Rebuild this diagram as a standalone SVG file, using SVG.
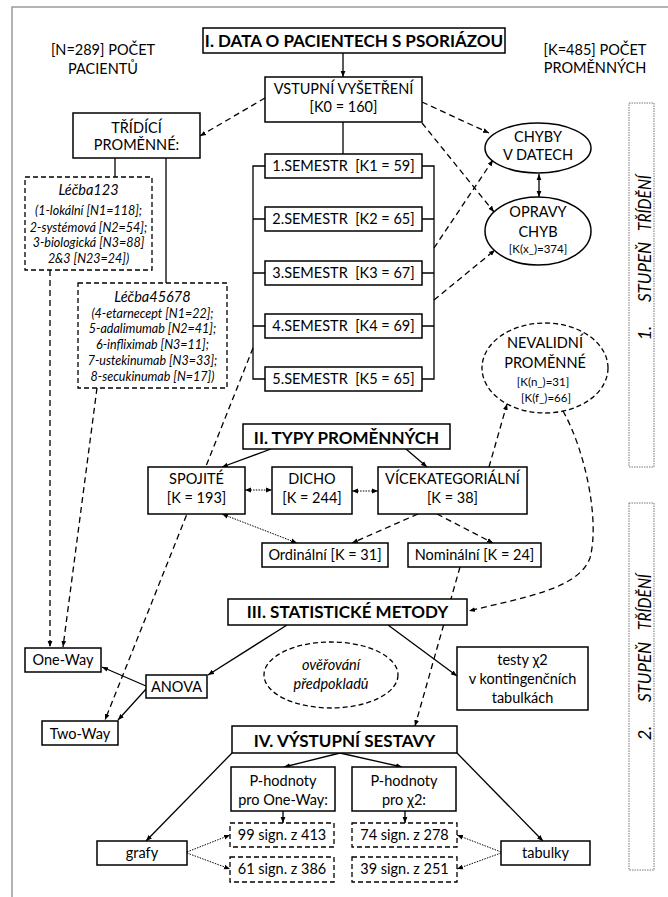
<svg xmlns="http://www.w3.org/2000/svg" width="668" height="897" viewBox="0 0 668 897">
<style>
.t{font-family:Lato,"Open Sans","Liberation Sans",sans-serif;font-size:14.5px;fill:#000;text-anchor:middle}
.b{font-weight:bold;font-size:17px}
.i{font-style:italic}
.s{font-size:11.5px}
.si{font-size:12.5px}
.r{font-size:18px;font-style:italic}
.box{fill:#fff;stroke:#000;stroke-width:1.5}
.dbox{fill:#fff;stroke:#000;stroke-width:1.3;stroke-dasharray:5,3}
.vbox{fill:none;stroke:#777;stroke-width:1;stroke-dasharray:1.5,1}
.ln{fill:none;stroke:#000;stroke-width:1.3}
.dl{fill:none;stroke:#000;stroke-width:1.3;stroke-dasharray:6,4}
.dt{fill:none;stroke:#000;stroke-width:1;stroke-dasharray:1.5,1.2}
.fr{fill:none;stroke:#9a9a9a;stroke-width:1.5}
</style>
<defs>
<marker id="a" viewBox="0 0 10 10" refX="10" refY="5" markerWidth="6" markerHeight="6" markerUnits="userSpaceOnUse" orient="auto-start-reverse"><path d="M0,1 L10,5 L0,9 z" fill="#000"/></marker>
</defs>
<path class="fr" d="M12,897 V7 H668"/>
<g id="connectors">
<path class="ln" d="M343,53 V77" marker-end="url(#a)"/>
<path class="ln" d="M343,122 V154"/>
<path class="ln" d="M265,166 H253 V379 H265 M253,219 H265 M253,273 H265 M253,326 H265"/>
<path class="ln" d="M422,166 H434 V379 H422 M434,219 H422 M434,273 H422 M434,326 H422"/>
<path class="ln" d="M115,158 V177"/>
<path class="ln" d="M166,158 V283"/>
<path class="dl" d="M265,98 L200,136" marker-end="url(#a)"/>
<path class="dl" d="M422,102 L489,133" marker-end="url(#a)"/>
<path class="dl" d="M422,123 L494,212" marker-end="url(#a)"/>
<path class="dl" d="M434,248 L493,160" marker-end="url(#a)"/>
<path class="dl" d="M434,300 L495,250" marker-end="url(#a)"/>
<path class="ln" d="M539,174 V197" marker-start="url(#a)" marker-end="url(#a)"/>
<path class="dl" d="M50,270 V647" marker-end="url(#a)"/>
<path class="dl" d="M97,388 L63,647" marker-end="url(#a)"/>
<path class="dl" d="M253,348 L105,720" marker-end="url(#a)"/>
<path class="ln" d="M271,449 L222,467" marker-end="url(#a)"/>
<path class="ln" d="M406,449 L427,467" marker-end="url(#a)"/>
<path class="dt" d="M245,490 H272" marker-start="url(#a)" marker-end="url(#a)"/>
<path class="dt" d="M352,491 H378" marker-start="url(#a)" marker-end="url(#a)"/>
<path class="dt" d="M222,514 L297,543" marker-start="url(#a)" marker-end="url(#a)"/>
<path class="dl" d="M418,514 L352,543" marker-end="url(#a)"/>
<path class="dl" d="M437,514 L493,543" marker-end="url(#a)"/>
<path class="dl" d="M489,467 L507,404" marker-end="url(#a)"/>
<path class="dl" d="M563,411 C585,450 600,520 590,558 C578,590 520,598 469,611" marker-end="url(#a)"/>
<path class="dl" d="M460,567 L415,726" marker-end="url(#a)"/>
<path class="ln" d="M146,686 L102,667" marker-end="url(#a)"/>
<path class="ln" d="M147,688 L118,720" marker-end="url(#a)"/>
<path class="ln" d="M287,625 L208,675" marker-end="url(#a)"/>
<path class="ln" d="M388,625 L457,676" marker-end="url(#a)"/>
<path class="ln" d="M340,753 L284,767" marker-end="url(#a)"/>
<path class="ln" d="M340,753 L402,767" marker-end="url(#a)"/>
<path class="ln" d="M232,753 L146,841" marker-end="url(#a)"/>
<path class="ln" d="M457,753 L543,841" marker-end="url(#a)"/>
<path class="ln" d="M283,811 V823" marker-end="url(#a)"/>
<path class="ln" d="M405,811 V823" marker-end="url(#a)"/>
<path class="dt" d="M187,852 L230,835" marker-end="url(#a)"/>
<path class="dt" d="M187,853 L230,869" marker-end="url(#a)"/>
<path class="dt" d="M501,852 L457,835" marker-end="url(#a)"/>
<path class="dt" d="M501,853 L457,869" marker-end="url(#a)"/>
</g>
<g id="pocet-pacientu"><text class="t" x="103" y="55">[N=289] POČET</text><text class="t" x="103" y="74">PACIENTŮ</text></g>
<g id="pocet-promennych"><text class="t" x="595" y="55">[K=485] POČET</text><text class="t" x="595" y="73">PROMĚNNÝCH</text></g>
<g id="data"><rect class="box" x="203" y="28" width="302" height="25"/><text class="t b" x="354" y="47">I. DATA O PACIENTECH S PSORIÁZOU</text></g>
<g id="vstupni"><rect class="box" x="265" y="77" width="157" height="45"/><text class="t" x="343.5" y="94">VSTUPNÍ VYŠETŘENÍ</text><text class="t" x="343.5" y="112">[K0 = 160]</text></g>
<g id="tridici"><rect class="box" x="73" y="113" width="127" height="45"/><text class="t" x="136.5" y="133">TŘÍDÍCÍ</text><text class="t" x="136.5" y="150">PROMĚNNÉ:</text></g>
<g id="lecba123"><rect class="dbox" x="25" y="177" width="127" height="93"/>
<text class="t i" x="88.5" y="195" font-size="16">Léčba123</text>
<text class="t i si" x="88.5" y="215">(1-lokální [N1=118];</text>
<text class="t i si" x="88.5" y="232">2-systémová [N2=54];</text>
<text class="t i si" x="88.5" y="247">3-biologická [N3=88]</text>
<text class="t i si" x="88.5" y="263">2&amp;3 [N23=24])</text></g>
<g id="lecba45678"><rect class="dbox" x="78" y="283" width="149" height="105"/>
<text class="t i" x="152.5" y="302" font-size="16">Léčba45678</text>
<text class="t i si" x="152.5" y="318">(4-etarnecept [N1=22];</text>
<text class="t i si" x="152.5" y="333">5-adalimumab [N2=41];</text>
<text class="t i si" x="152.5" y="349">6-infliximab [N3=11];</text>
<text class="t i si" x="152.5" y="365">7-ustekinumab [N3=33];</text>
<text class="t i si" x="152.5" y="381">8-secukinumab [N=17])</text></g>
<g id="sem1"><rect class="box" x="265" y="154" width="157" height="24"/><text class="t" x="343.5" y="171" xml:space="preserve">1.SEMESTR  [K1 = 59]</text></g>
<g id="sem2"><rect class="box" x="265" y="207" width="157" height="24"/><text class="t" x="343.5" y="224" xml:space="preserve">2.SEMESTR  [K2 = 65]</text></g>
<g id="sem3"><rect class="box" x="265" y="261" width="157" height="24"/><text class="t" x="343.5" y="278" xml:space="preserve">3.SEMESTR  [K3 = 67]</text></g>
<g id="sem4"><rect class="box" x="265" y="314" width="157" height="24"/><text class="t" x="343.5" y="331" xml:space="preserve">4.SEMESTR  [K4 = 69]</text></g>
<g id="sem5"><rect class="box" x="265" y="367" width="157" height="24"/><text class="t" x="343.5" y="384" xml:space="preserve">5.SEMESTR  [K5 = 65]</text></g>
<g id="chyby"><ellipse class="box" cx="538" cy="148" rx="53" ry="25"/><text class="t" x="538" y="142">CHYBY</text><text class="t" x="538" y="160">V DATECH</text></g>
<g id="opravy"><ellipse class="box" cx="538" cy="231" rx="53" ry="34"/><text class="t" x="538" y="217">OPRAVY</text><text class="t" x="538" y="237">CHYB</text><text class="t s" x="538" y="253">[K(x_)=374]</text></g>
<g id="nevalidni"><ellipse class="dbox" cx="545" cy="368" rx="63" ry="45"/><text class="t" x="545" y="348">NEVALIDNÍ</text><text class="t" x="545" y="368">PROMĚNNÉ</text><text class="t s" x="543" y="386">[K(n_)=31]</text><text class="t s" x="546" y="402">[K(f_)=66]</text></g>
<g id="typy"><rect class="box" x="243" y="424" width="207" height="25"/><text class="t b" x="346.5" y="444">II. TYPY PROMĚNNÝCH</text></g>
<g id="spojite"><rect class="box" x="148" y="467" width="97" height="47"/><text class="t" x="196.5" y="484">SPOJITÉ</text><text class="t" x="196.5" y="503">[K = 193]</text></g>
<g id="dicho"><rect class="box" x="272" y="467" width="80" height="47"/><text class="t" x="312" y="484">DICHO</text><text class="t" x="312" y="503">[K = 244]</text></g>
<g id="vicekat"><rect class="box" x="378" y="467" width="149" height="47"/><text class="t" x="452.5" y="484">VÍCEKATEGORIÁLNÍ</text><text class="t" x="452.5" y="503">[K = 38]</text></g>
<g id="ordinalni"><rect class="box" x="262" y="543" width="126" height="24"/><text class="t" x="325" y="560">Ordinální [K = 31]</text></g>
<g id="nominalni"><rect class="box" x="408" y="543" width="133" height="24"/><text class="t" x="474.5" y="560">Nominální [K = 24]</text></g>
<g id="metody"><rect class="box" x="228" y="599" width="239" height="26"/><text class="t b" x="347.5" y="618">III. STATISTICKÉ METODY</text></g>
<g id="oneway"><rect class="box" x="25" y="648" width="76" height="24"/><text class="t" x="63" y="665">One-Way</text></g>
<g id="anova"><rect class="box" x="146" y="675" width="61" height="23"/><text class="t" x="176.5" y="692">ANOVA</text></g>
<g id="twoway"><rect class="box" x="42" y="721" width="76" height="24"/><text class="t" x="80" y="739">Two-Way</text></g>
<g id="overovani"><ellipse class="dbox" cx="331" cy="675" rx="67" ry="33"/><text class="t i" x="331" y="670" font-size="17">ověřování</text><text class="t i" x="331" y="689" font-size="17">předpokladů</text></g>
<g id="testy"><rect class="box" x="457" y="647" width="131" height="63"/><text class="t" x="522.5" y="665">testy χ2</text><text class="t" x="522.5" y="684">v kontingenčních</text><text class="t" x="522.5" y="703">tabulkách</text></g>
<g id="vystupni"><rect class="box" x="232" y="726" width="225" height="27"/><text class="t b" x="344.5" y="747">IV. VÝSTUPNÍ SESTAVY</text></g>
<g id="p-oneway"><rect class="box" x="231" y="767" width="104" height="44"/><text class="t" x="283" y="786">P-hodnoty</text><text class="t" x="283" y="805">pro One-Way:</text></g>
<g id="p-chi"><rect class="box" x="352" y="767" width="104" height="44"/><text class="t" x="404" y="786">P-hodnoty</text><text class="t" x="404" y="805">pro χ2:</text></g>
<g id="s99"><rect class="dbox" x="230" y="823" width="104" height="24"/><text class="t" x="282" y="840">99 sign. z 413</text></g>
<g id="s61"><rect class="dbox" x="230" y="857" width="104" height="25"/><text class="t" x="282" y="874">61 sign. z 386</text></g>
<g id="s74"><rect class="dbox" x="352" y="823" width="105" height="24"/><text class="t" x="404.5" y="840">74 sign. z 278</text></g>
<g id="s39"><rect class="dbox" x="352" y="857" width="105" height="25"/><text class="t" x="404.5" y="874">39 sign. z 251</text></g>
<g id="grafy"><rect class="box" x="97" y="841" width="90" height="24"/><text class="t" x="142" y="858">grafy</text></g>
<g id="tabulky"><rect class="box" x="501" y="841" width="89" height="24"/><text class="t" x="545.5" y="858">tabulky</text></g>
<g id="stupen1"><rect class="vbox" x="629" y="103" width="25" height="364"/>
<text class="t r" transform="translate(651,333) rotate(-90)">1.</text>
<text class="t r" transform="translate(651,272) rotate(-90)" textLength="60" lengthAdjust="spacingAndGlyphs">STUPEŇ</text>
<text class="t r" transform="translate(651,203) rotate(-90)" textLength="56" lengthAdjust="spacingAndGlyphs">TŘÍDĚNÍ</text></g>
<g id="stupen2"><rect class="vbox" x="629" y="503" width="25" height="367"/>
<text class="t r" transform="translate(651,733) rotate(-90)">2.</text>
<text class="t r" transform="translate(651,672) rotate(-90)" textLength="60" lengthAdjust="spacingAndGlyphs">STUPEŇ</text>
<text class="t r" transform="translate(651,602) rotate(-90)" textLength="56" lengthAdjust="spacingAndGlyphs">TŘÍDĚNÍ</text></g>
</svg>
